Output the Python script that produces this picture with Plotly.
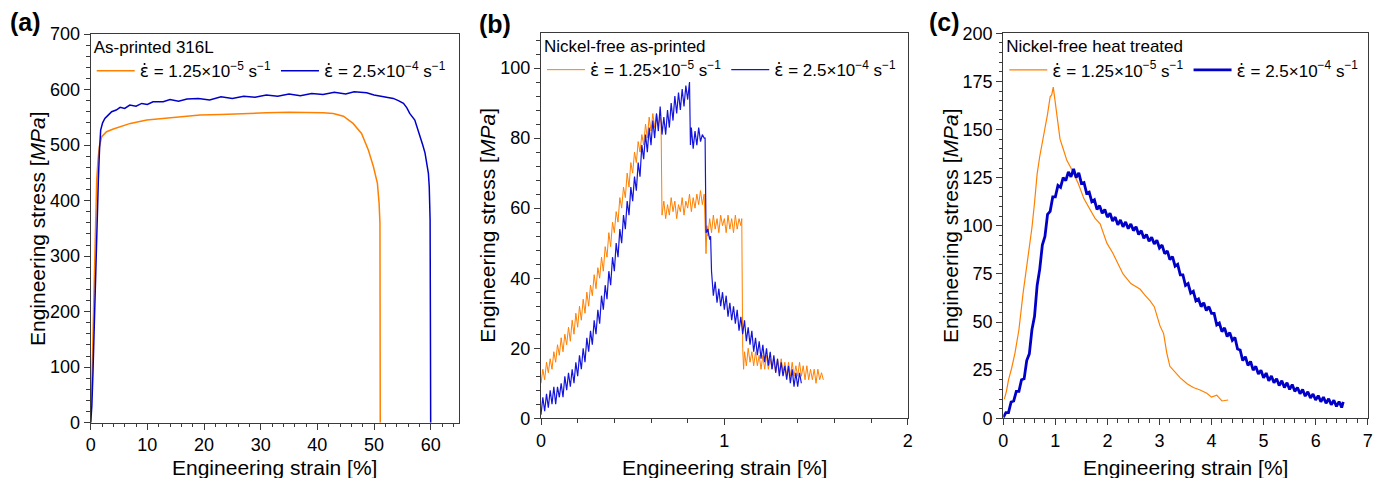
import plotly.graph_objects as go

# page is 1384x478; the html body adds an 8px margin, so the figure itself is 1376x470
OFF = 8
W, H = 1384 - OFF, 478 - OFF

# ---------------- Panel (a): As-printed 316L ----------------
a_strain_slow = [0, 0.15, 0.3, 0.5, 0.7, 0.9, 1.06, 1.3, 1.52, 1.94, 2.8, 4, 5.2, 7, 9.9, 13, 16, 19.3,
                 23, 27, 31, 35, 38, 41, 42.8, 44.6, 46.3, 47.8, 49.0, 49.9, 50.6, 50.9, 51.05, 51.1]
a_stress_slow = [0, 40, 110, 200, 290, 370, 437, 475, 497, 515, 524, 529, 533, 539, 545, 548, 551, 554,
                 555, 557, 558, 559, 559, 558, 557, 552, 539, 521, 491, 461, 431, 395, 359, 0]

a_strain_fast = [0, 0.2, 0.4, 0.6, 0.8, 1.0, 1.2, 1.35, 1.55, 1.76, 2.1, 2.5, 3.0, 3.7, 4.5, 5.2, 6.0,
                 6.9, 8, 9, 10, 11, 12.8, 14, 15.5, 17, 19, 21, 23, 25, 27, 29, 31, 33, 35, 37, 39, 41,
                 43, 45, 46.5, 48.7, 50, 51, 52, 53.4, 54.3, 55.2, 55.8, 56.3, 57.2, 57.7, 58.1, 58.6,
                 59.0, 59.3, 59.6, 59.75, 59.9, 59.95, 60.0]
a_stress_fast = [0, 30, 90, 170, 260, 340, 400, 437, 490, 527, 540, 548, 553, 560, 563, 568, 566,
                 572, 570, 575, 573, 578, 578, 582, 579, 583, 584, 581, 587, 584, 588, 586, 590, 588,
                 592, 589, 593, 591, 595, 592, 596, 594, 590, 588, 586, 584, 580, 575, 567, 557, 545,
                 530, 515, 500, 486, 470, 449, 425, 365, 200, 0]

# ---------------- Panel (b): Nickel-free as-printed ----------------
b_strain_slow = [0.00, 0.01, 0.02, 0.03, 0.04, 0.05, 0.06, 0.07, 0.08, 0.09, 0.10, 0.11, 0.12, 0.13,
                 0.14, 0.15, 0.16, 0.17, 0.18, 0.19, 0.20, 0.21, 0.22, 0.23, 0.24, 0.25, 0.26, 0.27,
                 0.28, 0.29, 0.30, 0.31, 0.32, 0.33, 0.34, 0.35, 0.36, 0.37, 0.38, 0.39, 0.40, 0.41,
                 0.42, 0.43, 0.44, 0.45, 0.46, 0.47, 0.48, 0.49, 0.50, 0.51, 0.52, 0.53, 0.54, 0.55,
                 0.56, 0.57, 0.58, 0.59, 0.60, 0.61, 0.62, 0.63, 0.64, 0.65, 0.655,
                 0.66, 0.67, 0.68, 0.69, 0.70, 0.71, 0.72, 0.73, 0.74, 0.75, 0.76, 0.77, 0.78, 0.79,
                 0.80, 0.81, 0.82, 0.83, 0.84, 0.85, 0.86, 0.87, 0.88, 0.89, 0.895, 0.90, 0.905,
                 0.91, 0.92, 0.93, 0.94, 0.95, 0.96, 0.97, 0.98, 0.99, 1.00, 1.01, 1.02, 1.03, 1.04,
                 1.05, 1.06, 1.07, 1.08, 1.09, 1.095, 1.10, 1.105,
                 1.11, 1.12, 1.13, 1.14, 1.15, 1.16, 1.17, 1.18, 1.19, 1.20, 1.21, 1.22, 1.23, 1.24,
                 1.25, 1.26, 1.27, 1.28, 1.29, 1.30, 1.31, 1.32, 1.33, 1.34, 1.35, 1.36, 1.37, 1.38,
                 1.39, 1.40, 1.41, 1.42, 1.43, 1.44, 1.45, 1.46, 1.47, 1.48, 1.49, 1.50, 1.51, 1.52,
                 1.53, 1.54]
b_stress_slow = [10, 14, 11, 16, 13, 17, 14, 19, 16, 21, 18, 23, 19, 24, 21, 26, 22, 28, 24, 30,
                 26, 32, 28, 34, 30, 36, 32, 38, 35, 41, 37, 43, 40, 46, 42, 49, 46, 53, 49, 56,
                 53, 59, 56, 63, 60, 66, 63, 70, 66, 73, 70, 76, 73, 79, 76, 81, 78, 84, 80, 86,
                 82, 87, 83, 87, 84, 86, 84,
                 58, 62, 57, 61, 58, 63, 59, 62, 57, 61, 59, 63, 58, 62, 60, 64, 59, 63, 60, 64,
                 61, 65, 61, 64, 50, 47, 55,
                 52, 57, 53, 58, 54, 57, 53, 58, 55, 57, 53, 58, 54, 57, 53, 58, 54, 57, 55, 57,
                 20, 14,
                 19, 15, 20, 16, 19, 15, 19, 15, 18, 14, 18, 14, 18, 14, 17, 14, 17, 13, 17, 13,
                 17, 13, 16, 12, 16, 12, 16, 12, 15, 12, 16, 12, 15, 11, 15, 11, 14, 11, 14, 10,
                 14, 11, 13, 11]

b_strain_fast = [0.00, 0.01, 0.02, 0.03, 0.04, 0.05, 0.06, 0.07, 0.08, 0.09, 0.10, 0.11, 0.12, 0.13,
                 0.14, 0.15, 0.16, 0.17, 0.18, 0.19, 0.20, 0.21, 0.22, 0.23, 0.24, 0.25, 0.26, 0.27,
                 0.28, 0.29, 0.30, 0.31, 0.32, 0.33, 0.34, 0.35, 0.36, 0.37, 0.38, 0.39, 0.40, 0.41,
                 0.42, 0.43, 0.44, 0.45, 0.46, 0.47, 0.48, 0.49, 0.50, 0.51, 0.52, 0.53, 0.54, 0.55,
                 0.56, 0.57, 0.58, 0.59, 0.60, 0.61, 0.62, 0.63, 0.64, 0.65, 0.66, 0.67, 0.68, 0.69,
                 0.70, 0.71, 0.72, 0.73, 0.74, 0.75, 0.76, 0.77, 0.78, 0.79, 0.80, 0.81, 0.815,
                 0.82, 0.83, 0.84, 0.85, 0.86, 0.87, 0.88, 0.89, 0.895, 0.90, 0.91, 0.92, 0.925, 0.93,
                 0.94, 0.95, 0.96, 0.97, 0.98, 0.99, 1.00, 1.01, 1.02, 1.03, 1.04, 1.05, 1.06, 1.07,
                 1.08, 1.09, 1.10, 1.11, 1.12, 1.13, 1.14, 1.15, 1.16, 1.17, 1.18, 1.19, 1.20, 1.21,
                 1.22, 1.23, 1.24, 1.25, 1.26, 1.27, 1.28, 1.29, 1.30, 1.31, 1.32, 1.33, 1.34, 1.35,
                 1.36, 1.37, 1.38, 1.39, 1.40, 1.41, 1.42]
b_stress_fast = [1, 6, 2, 7, 3, 8, 4, 9, 4, 9, 6, 10, 6, 12, 8, 13, 9, 14, 10, 16,
                 12, 18, 14, 20, 16, 23, 19, 25, 21, 28, 24, 31, 27, 35, 31, 38, 34, 42, 38, 46,
                 42, 50, 46, 54, 50, 58, 54, 62, 58, 66, 62, 69, 65, 73, 69, 78, 74, 81, 76, 83,
                 78, 85, 80, 87, 82, 89, 81, 86, 81, 88, 83, 90, 85, 92, 87, 93, 88, 94, 89, 95,
                 91, 96, 78,
                 83, 77, 82, 78, 83, 79, 81, 80, 80, 53, 54, 51, 52, 42,
                 35, 39, 33, 37, 32, 36, 31, 35, 29, 33, 28, 32, 27, 31, 25, 29, 24, 28, 22, 26,
                 21, 25, 19, 23, 18, 22, 17, 21, 16, 20, 15, 19, 14, 18, 13, 17, 12, 16, 12, 15,
                 11, 15, 10, 14, 9, 13, 9, 13, 10]

# ---------------- Panel (c): Nickel-free heat treated ----------------
c_strain_slow = [0.02, 0.06, 0.1, 0.16, 0.225, 0.3, 0.38, 0.46, 0.55, 0.6, 0.65, 0.70, 0.75, 0.80,
                 0.85, 0.90, 0.93, 0.96, 0.98, 1.03, 1.06, 1.09, 1.15, 1.22, 1.3, 1.44, 1.55, 1.67,
                 1.76, 1.86, 1.99, 2.1, 2.3, 2.45, 2.63, 2.72, 2.82, 2.9, 3.01, 3.08, 3.14, 3.20,
                 3.3, 3.4, 3.53, 3.65, 3.78, 3.91, 4.0, 4.1, 4.2, 4.32]
c_stress_slow = [10, 14, 20, 26, 34, 46, 65, 80, 99, 112, 127, 136, 143, 151,
                 158, 167, 168, 172, 168, 156, 150, 145, 140, 134, 130, 122, 114, 108,
                 104, 101, 91, 86, 75, 70, 67, 64, 61, 58, 48, 44, 34, 27,
                 24, 21, 18, 16, 14.7, 13, 11, 12, 9, 9.5]

c_strain_fast = [0.00, 0.05, 0.10, 0.15, 0.20, 0.25, 0.30, 0.35, 0.40, 0.45, 0.50, 0.55, 0.60, 0.65,
                 0.70, 0.75, 0.80, 0.85, 0.90, 0.95, 1.00, 1.05, 1.10, 1.15, 1.20, 1.25, 1.30, 1.35,
                 1.40, 1.45, 1.50, 1.55, 1.60, 1.65, 1.70, 1.75, 1.80, 1.85, 1.90, 1.95, 2.00, 2.05,
                 2.10, 2.15, 2.20, 2.25, 2.30, 2.35, 2.40, 2.45, 2.50, 2.55, 2.60, 2.65, 2.70, 2.75,
                 2.80, 2.85, 2.90, 2.95, 3.00, 3.05, 3.10, 3.15, 3.20, 3.25, 3.30, 3.35, 3.40, 3.45,
                 3.50, 3.55, 3.60, 3.65, 3.70, 3.75, 3.80, 3.85, 3.90, 3.95, 4.00, 4.05, 4.10, 4.15,
                 4.20, 4.25, 4.30, 4.35, 4.40, 4.45, 4.50, 4.55, 4.60, 4.65, 4.70, 4.75, 4.80, 4.85,
                 4.90, 4.95, 5.00, 5.05, 5.10, 5.15, 5.20, 5.25, 5.30, 5.35, 5.40, 5.45, 5.50, 5.55,
                 5.60, 5.65, 5.70, 5.75, 5.80, 5.85, 5.90, 5.95, 6.00, 6.05, 6.10, 6.15, 6.20, 6.25,
                 6.30, 6.35, 6.40, 6.45, 6.50, 6.53]
c_stress_fast = [0.5, 3, 3, 8.5, 9, 14, 14, 20, 20.5, 30, 33.5, 46, 53, 69,
                 77.5, 90, 94.5, 106, 107.5, 115, 115, 121, 120, 125, 123.5, 128, 125.5, 129.5,
                 125, 127.5, 122, 122.5, 117, 117.5, 112.5, 113.5, 108.5, 110.5, 106.5, 108.5, 104.5, 106.5,
                 102.5, 104.5, 100.5, 103, 99.5, 102, 98.5, 101, 97.5, 99.5, 95.5, 97.5, 93.5, 95.5,
                 92, 94, 90.5, 92.5, 88.5, 90, 85.5, 87, 82.5, 84, 79, 80, 74.5, 74.5,
                 69, 70, 65, 66, 61, 62, 58, 60, 56, 58, 54.5, 54.5, 48.5, 49.5,
                 45, 47, 42.5, 44.5, 40.5, 42, 36, 35.5, 30, 32, 27.5, 29.5, 25, 27,
                 23, 25, 21, 23.5, 19.5, 22, 18.5, 20.5, 17, 19.5, 16, 18.5, 15, 17.5,
                 14, 16, 12.8, 15, 11.5, 13.8, 10.5, 12.6, 9.5, 11.8, 8.6, 11, 7.8, 10.2,
                 7, 9.4, 6.2, 8.7, 5.6, 8.5]

EPS = "<span style=\"font-family:'DejaVu Sans'\">ε̇</span>"
legend_slow = EPS + " = 1.25×10<sup>−5</sup> s<sup>−1</sup>"
legend_fast = EPS + " = 2.5×10<sup>−4</sup> s<sup>−1</sup>"
panel_titles = ["As-printed 316L", "Nickel-free as-printed", "Nickel-free heat treated"]
panel_labels = ["(a)", "(b)", "(c)"]

ORANGE = "#FF8000"
BLUE_A = "#0000C8"
BLUE_B = "#1414DC"
BLUE_C = "#0000C8"
AXC = "#3a3a3a"
FONT = "Liberation Sans, Arial, sans-serif"

# plot areas in page pixels: (left, right, top, bottom)
boxes = [(90.7, 459.0, 34.0, 422.7), (541.0, 907.7, 33.0, 418.3), (1003.3, 1367.7, 33.3, 418.3)]


def fx(px):  # page x pixel -> paper fraction
    return (px - OFF) / W


def fy(py):  # page y pixel (from top) -> paper fraction
    return (H - (py - OFF)) / H


fig = go.Figure()

series = [
    (a_strain_slow, a_stress_slow, a_strain_fast, a_stress_fast, BLUE_A, 1.5, 1.5),
    (b_strain_slow, b_stress_slow, b_strain_fast, b_stress_fast, BLUE_B, 1.0, 1.2),
    (c_strain_slow, c_stress_slow, c_strain_fast, c_stress_fast, BLUE_C, 1.2, 2.8),
]
legend_ids = ["legend", "legend2", "legend3"]
for i, (xs, ys, xf, yf, bc, wo, wb) in enumerate(series):
    xa = "x" if i == 0 else f"x{i+1}"
    ya = "y" if i == 0 else f"y{i+1}"
    fig.add_trace(go.Scatter(x=xs, y=ys, mode="lines", name=legend_slow,
                             line=dict(color=ORANGE, width=wo), xaxis=xa, yaxis=ya,
                             legend=legend_ids[i]))
    fig.add_trace(go.Scatter(x=xf, y=yf, mode="lines", name=legend_fast,
                             line=dict(color=bc, width=wb), xaxis=xa, yaxis=ya,
                             legend=legend_ids[i]))

x_ranges = [[0, 65], [0, 2], [0, 7]]
x_dticks = [10, 1, 1]
x_minor = [2, 0.2, 0.2]
y_ranges = [[0, 700], [0, 110], [0, 200]]
y_dticks = [100, 20, 25]
y_minor = [20, 4, 5]

layout = dict(width=W, height=H, margin=dict(l=0, r=0, t=0, b=0, autoexpand=False),
              paper_bgcolor="white", plot_bgcolor="white",
              font=dict(family=FONT, color="black", size=18))

ann = []
for i, b in enumerate(boxes):
    l, r, t, bt = b
    sx = "" if i == 0 else str(i + 1)
    common = dict(showline=True, linecolor=AXC, linewidth=1.3, mirror=True,
                  ticks="outside", ticklen=6, tickwidth=1.3, tickcolor=AXC,
                  showgrid=False, zeroline=False, tickfont=dict(size=18, color="black"))
    layout["xaxis" + sx] = dict(domain=[fx(l), fx(r)], range=x_ranges[i], dtick=x_dticks[i], tick0=0,
                               anchor="y" + sx,
                               minor=dict(ticks="outside", ticklen=3.5, dtick=x_minor[i],
                                          tick0=0, tickcolor=AXC, tickwidth=1.2),
                               **common)
    layout["yaxis" + sx] = dict(domain=[fy(bt), fy(t)], range=y_ranges[i], dtick=y_dticks[i], tick0=0,
                               anchor="x" + sx,
                               minor=dict(ticks="outside", ticklen=3.5, dtick=y_minor[i],
                                          tick0=0, tickcolor=AXC, tickwidth=1.2),
                               **common)
    # legends
    layout[legend_ids[i]] = dict(
        x=fx(l + 1), xanchor="left", y=fy(t - 3), yanchor="top",
        orientation="h", bgcolor="rgba(0,0,0,0)", borderwidth=0,
        title=dict(text=panel_titles[i], side="top", font=dict(size=17, family=FONT)),
        font=dict(size=17, family=FONT), itemwidth=38, tracegroupgap=0)
    # axis titles
    ann.append(dict(text="Engineering strain [%]", x=fx((l + r) / 2), y=fy(467),
                    xref="paper", yref="paper", showarrow=False, xanchor="center",
                    yanchor="middle", font=dict(size=21, family=FONT)))
    ann.append(dict(text="Engineering stress [<i>MPa</i>]", x=fx(l - 53), y=fy((t + bt) / 2),
                    xref="paper", yref="paper", showarrow=False, xanchor="center",
                    yanchor="middle", textangle=-90, font=dict(size=21, family=FONT)))

label_pos = [(8, 22), (477, 24), (927, 22)]
for lab, (lx, ly) in zip(panel_labels, label_pos):
    ann.append(dict(text=f"<b>{lab}</b>", x=fx(lx), y=fy(ly), xref="paper", yref="paper",
                    showarrow=False, xanchor="left", yanchor="middle",
                    font=dict(size=25, family=FONT)))

layout["annotations"] = ann
fig.update_layout(**layout)
fig.write_html("out.html")
